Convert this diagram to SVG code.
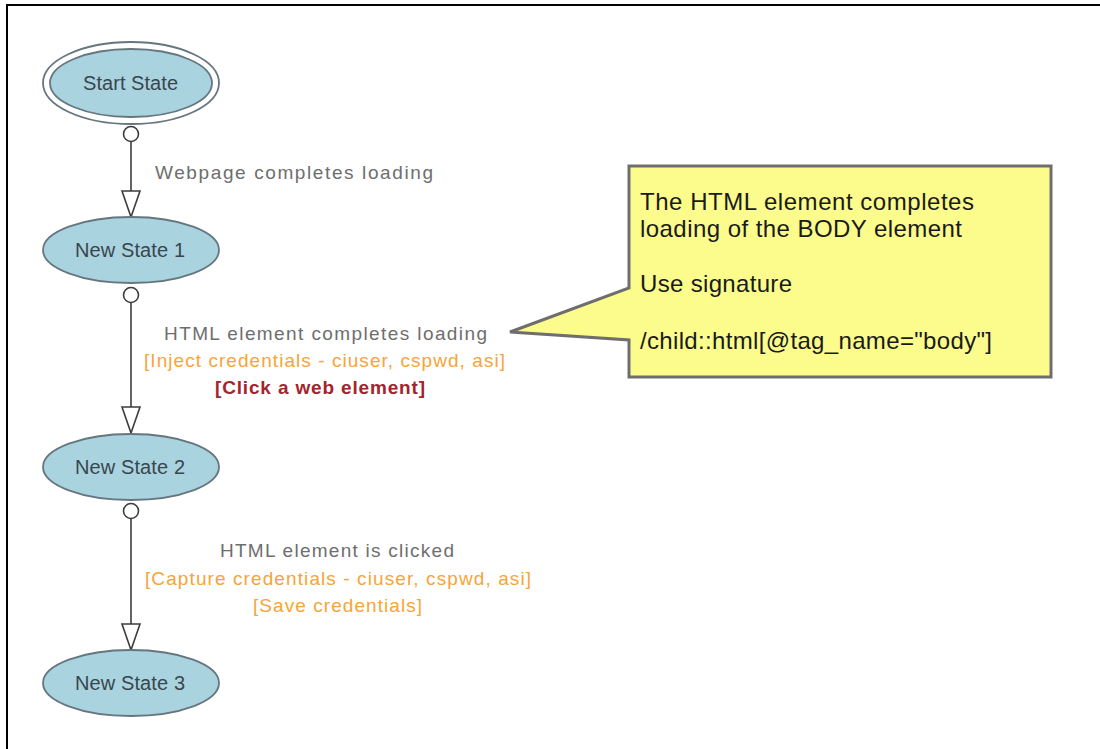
<svg xmlns="http://www.w3.org/2000/svg" width="1100" height="749" viewBox="0 0 1100 749">
  <style>
    .state { fill: #a9d3df; stroke: #65767f; stroke-width: 1.8; }
    .ring { fill: #ffffff; stroke: #65767f; stroke-width: 1.8; }
    .label { font-family: "Liberation Sans", Arial, sans-serif; font-size: 20px; fill: #3a464e; }
    .edge { stroke: #3c3c3c; stroke-width: 1.6; fill: none; }
    .trig { font-family: "Liberation Sans", Arial, sans-serif; font-size: 19px; fill: #6e6e6e; }
    .act { font-family: "Liberation Sans", Arial, sans-serif; font-size: 19px; fill: #f7a43a; }
    .act2 { font-family: "Liberation Sans", Arial, sans-serif; font-size: 19px; font-weight: bold; fill: #a3242c; }
    .note { fill: #fcfc8c; stroke: #6e6e6e; stroke-width: 3; stroke-linejoin: miter; }
    .notetext { font-family: "Liberation Sans", Arial, sans-serif; font-size: 24px; fill: #1a1a1a; }
  </style>
  <defs>
    <marker id="tail" markerUnits="userSpaceOnUse" viewBox="-9 -9 18 18" refX="0" refY="0" markerWidth="18" markerHeight="18" orient="auto">
      <circle cx="0" cy="0" r="7.5" fill="#ffffff" stroke="#3c3c3c" stroke-width="1.6"/>
    </marker>
    <marker id="head" markerUnits="userSpaceOnUse" viewBox="-2 -11 30 22" refX="26" refY="0" markerWidth="30" markerHeight="22" orient="auto">
      <path d="M0,-9 L26,0 L0,9 Z" fill="#ffffff" stroke="#3c3c3c" stroke-width="1.6" stroke-linejoin="miter"/>
    </marker>
  </defs>

  <rect x="0" y="0" width="1100" height="749" fill="#ffffff"/>
  <!-- page frame -->
  <path d="M7,749 V5 H1100" fill="none" stroke="#000000" stroke-width="2"/>

  <!-- transitions -->
  <g id="connectors">
    <line class="edge" x1="131" y1="134" x2="131" y2="217" marker-start="url(#tail)" marker-end="url(#head)"/>
    <line class="edge" x1="131" y1="295" x2="131" y2="433" marker-start="url(#tail)" marker-end="url(#head)"/>
    <line class="edge" x1="131" y1="511" x2="131" y2="650" marker-start="url(#tail)" marker-end="url(#head)"/>

    <text class="trig" x="155" y="179" textLength="278" lengthAdjust="spacing">Webpage completes loading</text>

    <text class="trig" x="164" y="340" textLength="323" lengthAdjust="spacing">HTML element completes loading</text>
    <text class="act" x="144" y="367" textLength="361" lengthAdjust="spacing">[Inject credentials - ciuser, cspwd, asi]</text>
    <text class="act2" x="215" y="394" textLength="210" lengthAdjust="spacing">[Click a web element]</text>

    <text class="trig" x="220" y="557" textLength="234" lengthAdjust="spacing">HTML element is clicked</text>
    <text class="act" x="145" y="585" textLength="386" lengthAdjust="spacing">[Capture credentials - ciuser, cspwd, asi]</text>
    <text class="act" x="253" y="612" textLength="169" lengthAdjust="spacing">[Save credentials]</text>
  </g>

  <!-- states -->
  <g id="start-state">
    <ellipse class="ring" cx="131" cy="83" rx="88" ry="41"/>
    <ellipse class="state" cx="131" cy="83" rx="81" ry="34"/>
    <text class="label" x="83" y="90" textLength="95" lengthAdjust="spacing">Start State</text>
  </g>
  <g id="new-state-1">
    <ellipse class="state" cx="131" cy="250" rx="88" ry="33"/>
    <text class="label" x="75" y="257" textLength="110" lengthAdjust="spacing">New State 1</text>
  </g>
  <g id="new-state-2">
    <ellipse class="state" cx="131" cy="467" rx="88" ry="33"/>
    <text class="label" x="75" y="474" textLength="110" lengthAdjust="spacing">New State 2</text>
  </g>
  <g id="new-state-3">
    <ellipse class="state" cx="131" cy="683" rx="88" ry="33"/>
    <text class="label" x="75" y="690" textLength="110" lengthAdjust="spacing">New State 3</text>
  </g>

  <!-- note callout -->
  <g id="note">
    <path class="note" d="M629,166 H1051 V377 H629 V340 L510,332 L629,288 Z"/>
    <text class="notetext" x="640" y="210" textLength="334" lengthAdjust="spacing">The HTML element completes</text>
    <text class="notetext" x="640" y="237" textLength="322" lengthAdjust="spacing">loading of the BODY element</text>
    <text class="notetext" x="640" y="292" textLength="152" lengthAdjust="spacing">Use signature</text>
    <text class="notetext" x="640" y="349" textLength="352" lengthAdjust="spacing">/child::html[@tag_name="body"]</text>
  </g>
</svg>
